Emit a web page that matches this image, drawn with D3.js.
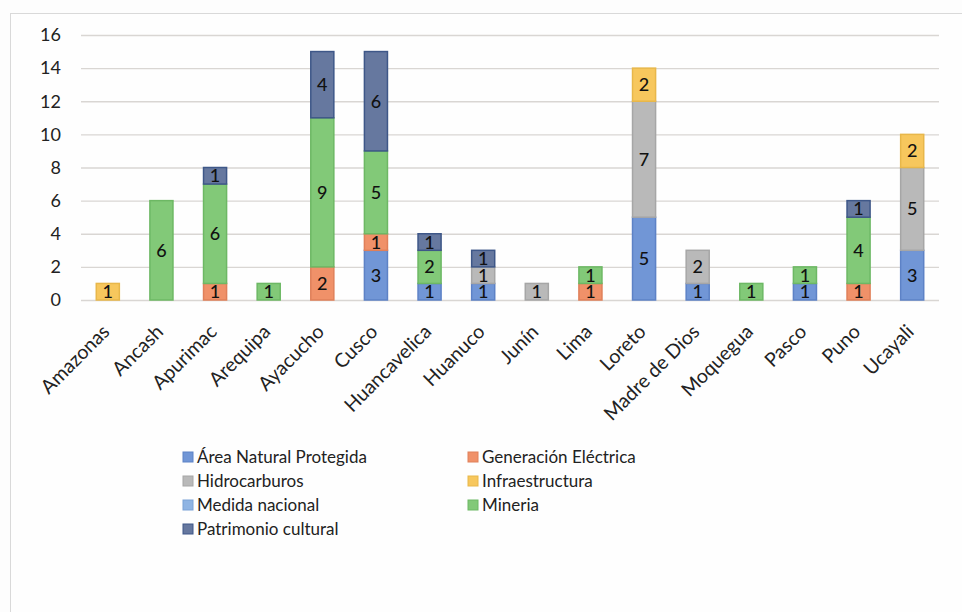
<!DOCTYPE html>
<html>
<head>
<meta charset="utf-8">
<script src="https://cdn.jsdelivr.net/npm/d3@7"></script>
<style>
  body { margin: 0; background: #fff; }
  svg { font-family: Lato, "Open Sans", sans-serif; }
</style>
</head>
<body>
<script>
var w = 962;
var h = 612;

var regions = ["Amazonas", "Ancash", "Apurimac", "Arequipa", "Ayacucho", "Cusco", "Huancavelica",
               "Huanuco", "Junín", "Lima", "Loreto", "Madre de Dios", "Moquegua", "Pasco", "Puno", "Ucayali"];

var seriesNames = ["Área Natural Protegida", "Generación Eléctrica", "Hidrocarburos", "Infraestructura",
                   "Medida nacional", "Mineria", "Patrimonio cultural"];

var areaNatural   = [0, 0, 0, 0, 0, 3, 1, 1, 0, 0, 5, 1, 0, 1, 0, 3];
var generacion    = [0, 0, 1, 0, 2, 1, 0, 0, 0, 1, 0, 0, 0, 0, 1, 0];
var hidrocarburos = [0, 0, 0, 0, 0, 0, 0, 1, 1, 0, 7, 2, 0, 0, 0, 5];
var infraestructura = [1, 0, 0, 0, 0, 0, 0, 0, 0, 0, 2, 0, 0, 0, 0, 2];
var medidaNacional = [0, 0, 0, 0, 0, 0, 0, 0, 0, 0, 0, 0, 0, 0, 0, 0];
var mineria       = [0, 6, 6, 1, 9, 5, 2, 0, 0, 1, 0, 0, 1, 1, 4, 0];
var patrimonio    = [0, 0, 1, 0, 4, 6, 1, 1, 0, 0, 0, 0, 0, 0, 1, 0];

var yTicks = [0, 2, 4, 6, 8, 10, 12, 14, 16];

var fills   = ["#7196d6", "#f09169", "#b9b9b9", "#f7c75d", "#8fb4e3", "#82c978", "#66789f"];
var strokes = ["#5d82c6", "#e0805a", "#a6a6a6", "#e8b74a", "#7aa2d6", "#6db864", "#3e5788"];

var allSeries = [areaNatural, generacion, hidrocarburos, infraestructura, medidaNacional, mineria, patrimonio];

var table = regions.map(function(r, i) {
    var row = { region: r };
    seriesNames.forEach(function(s, k) { row[s] = allSeries[k][i]; });
    return row;
});

var stack = d3.stack().keys(seriesNames)(table);

var svg = d3.select("body").append("svg")
    .attr("width", w)
    .attr("height", h);

svg.append("rect")
    .attr("x", 0).attr("y", 0).attr("width", w).attr("height", h)
    .attr("fill", "#fdfdfd");

// chart frame
svg.append("rect")
    .attr("x", 10.5).attr("y", 13.5)
    .attr("width", 1000).attr("height", 700)
    .attr("fill", "#fefefe")
    .attr("stroke", "#d9d9d9");

var plotLeft = 81, plotRight = 939, plotTop = 35, plotBottom = 300;

var x = d3.scaleBand()
    .domain(regions)
    .range([plotLeft, plotRight])
    .paddingInner(0.57)
    .paddingOuter(0.285);

var y = d3.scaleLinear()
    .domain([0, 16])
    .range([plotBottom, plotTop]);

// gridlines
svg.append("g")
    .selectAll("line")
    .data(yTicks)
    .enter()
    .append("line")
    .attr("x1", plotLeft)
    .attr("x2", plotRight)
    .attr("y1", function(d) { return y(d) + 0.5; })
    .attr("y2", function(d) { return y(d) + 0.5; })
    .attr("stroke", "#d9d6d3")
    .attr("stroke-width", 1.3);

var yAxis = svg.append("g")
    .attr("transform", "translate(" + (plotLeft - 20) + ",0)")
    .call(d3.axisLeft(y).tickValues(yTicks).tickSize(0).tickPadding(0));
yAxis.select(".domain").remove();
yAxis.selectAll("text")
    .attr("font-size", "18px")
    .attr("fill", "#222")
    .style("font-family", "Lato, 'Open Sans', sans-serif");

// bars
var layers = svg.append("g")
    .selectAll("g")
    .data(stack)
    .enter()
    .append("g")
    .attr("fill", function(d, i) { return fills[i]; })
    .attr("stroke", function(d, i) { return strokes[i]; });

layers.selectAll("rect")
    .data(function(d) { return d.filter(function(s) { return s[1] - s[0] > 0; }); })
    .enter()
    .append("rect")
    .attr("x", function(d) { return x(d.data.region); })
    .attr("y", function(d) { return y(d[1]); })
    .attr("width", x.bandwidth())
    .attr("height", function(d) { return y(d[0]) - y(d[1]); })
    .attr("stroke-width", 1.5);

// value labels
layers.selectAll("text")
    .data(function(d) { return d.filter(function(s) { return s[1] - s[0] > 0; }); })
    .enter()
    .append("text")
    .attr("x", function(d) { return x(d.data.region) + x.bandwidth() / 2; })
    .attr("y", function(d) { return (y(d[0]) + y(d[1])) / 2; })
    .attr("dy", "0.36em")
    .attr("text-anchor", "middle")
    .attr("stroke", "none")
    .attr("fill", "#111")
    .attr("font-size", "18px")
    .attr("font-weight", 500)
    .text(function(d) { return d[1] - d[0]; });

// x axis labels
var xAxis = svg.append("g")
    .attr("transform", "translate(0," + plotBottom + ")")
    .call(d3.axisBottom(x).tickSize(0).tickPadding(0));
xAxis.select(".domain").remove();
xAxis.selectAll("text")
    .attr("font-size", "19.5px")
    .attr("fill", "#222")
    .attr("text-anchor", "end")
    .attr("y", 0)
    .attr("dy", 0)
    .attr("transform", "translate(3,33) rotate(-45)")
    .style("font-family", "Lato, 'Open Sans', sans-serif");

// legend
var legend = svg.append("g")
    .selectAll("g")
    .data(seriesNames)
    .enter()
    .append("g")
    .attr("transform", function(d, i) {
        var col = i % 2, row = Math.floor(i / 2);
        return "translate(" + (183 + col * 285) + "," + (457 + row * 24) + ")";
    });

legend.append("rect")
    .attr("x", 0).attr("y", -5)
    .attr("width", 10).attr("height", 10)
    .attr("fill", function(d, i) { return fills[i]; })
    .attr("stroke", function(d, i) { return strokes[i]; });

legend.append("text")
    .attr("x", 14)
    .attr("dy", "0.35em")
    .attr("font-size", "17px")
    .attr("fill", "#222")
    .text(function(d) { return d; });
</script>
</body>
</html>
